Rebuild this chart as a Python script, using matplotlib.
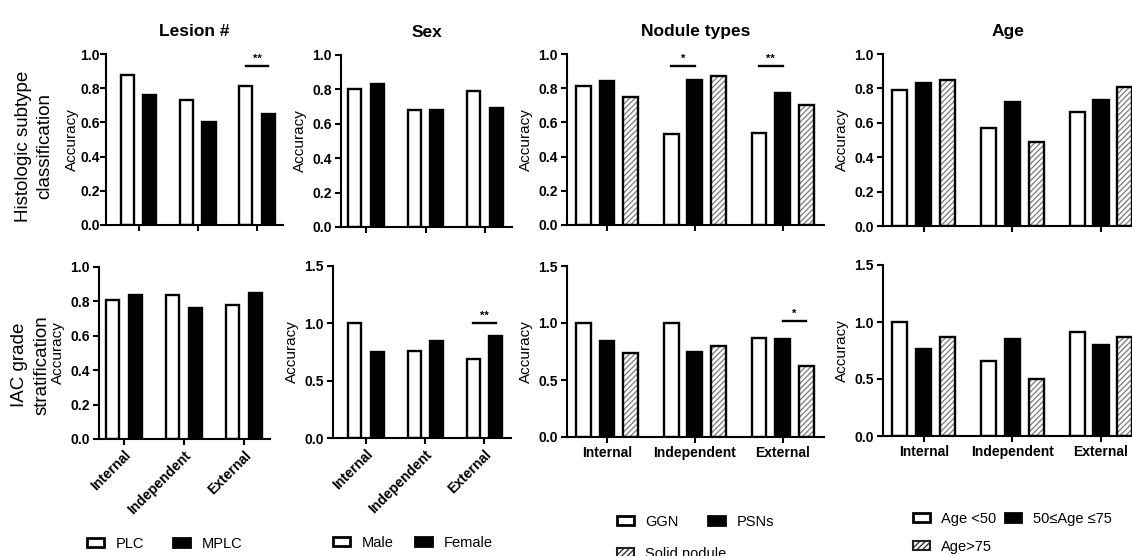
import numpy as np
import matplotlib
matplotlib.use("Agg")
import matplotlib.pyplot as plt
from matplotlib.patches import Patch

plt.rcParams['font.family'] = ['Liberation Sans', 'DejaVu Sans']
plt.rcParams['hatch.linewidth'] = 0.9

W, H = 1132, 556

groups = ['Internal', 'Independent', 'External']

# Lesion #
lesion_names = ['PLC', 'MPLC']
lesion_hist = [[0.88, 0.73, 0.81], [0.76, 0.60, 0.65]]
lesion_iac = [[0.81, 0.84, 0.78], [0.84, 0.76, 0.85]]

# Sex
sex_names = ['Male', 'Female']
sex_hist = [[0.80, 0.68, 0.79], [0.83, 0.68, 0.69]]
sex_iac = [[1.00, 0.76, 0.69], [0.75, 0.85, 0.89]]

# Nodule types
nodule_names = ['GGN', 'PSNs', 'Solid nodule']
nodule_hist = [[0.81, 0.53, 0.54], [0.84, 0.85, 0.77], [0.75, 0.87, 0.70]]
nodule_iac = [[1.00, 1.00, 0.87], [0.84, 0.75, 0.86], [0.74, 0.80, 0.62]]

# Age
age_names = ['Age <50', '50\u2264Age \u226475', 'Age>75']
age_hist = [[0.79, 0.57, 0.66], [0.83, 0.72, 0.73], [0.85, 0.49, 0.81]]
age_iac = [[1.00, 0.66, 0.91], [0.76, 0.85, 0.80], [0.87, 0.50, 0.87]]

# significance marks: (group, bar a, bar b, y, text)
sig_lesion_hist = [(2, 0, 1, 0.93, '**')]
sig_nodule_hist = [(1, 0, 1, 0.93, '*'), (2, 0, 1, 0.93, '**')]
sig_sex_iac = [(2, 0, 1, 1.00, '**')]
sig_nodule_iac = [(2, 1, 2, 1.02, '*')]

fig = plt.figure(figsize=(W / 100, H / 100), dpi=100)


def ax_at(l, r, t, b):
    return fig.add_axes([l / W, 1 - b / H, (r - l) / W, (b - t) / H])


def panel(ax, series, xlim, ylim, yticks, offs, width, sigs=(), labels=False, rot=False,
          lpad=4, tpad=2.5):
    x = np.arange(len(groups))
    styles = ['white', 'black', 'hatch']
    for i, vals in enumerate(series):
        xs = x + offs[i]
        st = styles[i]
        if st == 'hatch':
            ax.bar(xs, vals, width, color='white', edgecolor='#7a7a7a', lw=0, hatch='//////')
            ax.bar(xs, vals, width, fill=False, edgecolor='black', lw=1.7)
        else:
            ax.bar(xs, vals, width, color=st, edgecolor='black', lw=1.7)
    for g, a, b, y, txt in sigs:
        ax.plot([g + offs[a], g + offs[b]], [y, y], color='black', lw=1.7, clip_on=False)
        ax.text((2 * g + offs[a] + offs[b]) / 2, y + 0.012 * ylim, txt, ha='center', va='bottom',
                fontsize=8, fontweight='bold')
    ax.set_xlim(*xlim)
    ax.set_ylim(0, ylim)
    ax.set_yticks(yticks)
    ax.set_yticklabels(['%.1f' % v for v in yticks], fontweight='bold', fontsize=10)
    ax.set_xticks(x)
    if labels:
        if rot:
            ax.set_xticklabels(groups, rotation=45, ha='right', rotation_mode='anchor',
                               fontweight='bold', fontsize=10)
        else:
            ax.set_xticklabels(groups, fontweight='bold', fontsize=10)
    else:
        ax.set_xticklabels([])
    ax.spines['top'].set_visible(False)
    ax.spines['right'].set_visible(False)
    for s in ['left', 'bottom']:
        ax.spines[s].set_linewidth(1.5)
    ax.tick_params(direction='out', length=4, width=1.5, pad=2.5)
    ax.tick_params(axis='y', pad=tpad)
    ax.set_ylabel('Accuracy', fontsize=11, labelpad=lpad)


off2 = [-0.19, 0.19]
off3 = [-0.27, 0.0, 0.27]
tick1 = [0, 0.2, 0.4, 0.6, 0.8, 1.0]
tick15 = [0, 0.5, 1.0, 1.5]

ax = ax_at(106, 283, 54, 225)
panel(ax, lesion_hist, (-0.55, 2.44), 1.0, tick1, off2, 0.22, sig_lesion_hist, lpad=1, tpad=0.5)
ax.set_title('Lesion #', fontsize=12.5, fontweight='bold', pad=13)

ax = ax_at(341, 512, 55, 227)
panel(ax, sex_hist, (-0.42, 2.45), 1.0, tick1, off2, 0.22)
ax.set_title('Sex', fontsize=12.5, fontweight='bold', pad=13)

ax = ax_at(567, 824, 54, 225)
panel(ax, nodule_hist, (-0.455, 2.47), 1.0, tick1, off3, 0.17, sig_nodule_hist)
ax.set_title('Nodule types', fontsize=12.5, fontweight='bold', pad=13)

ax = ax_at(883, 1132, 54, 226)
panel(ax, age_hist, (-0.46, 2.35), 1.0, tick1, off3, 0.17)
ax.set_title('Age', fontsize=12.5, fontweight='bold', pad=13)

ax = ax_at(99, 270, 267, 439)
panel(ax, lesion_iac, (-0.42, 2.43), 1.0, tick1, off2, 0.22, labels=True, rot=True)

ax = ax_at(333, 511, 266, 438)
panel(ax, sex_iac, (-0.56, 2.45), 1.5, tick15, off2, 0.22, sig_sex_iac, labels=True, rot=True)

ax = ax_at(567, 824, 266, 437)
panel(ax, nodule_iac, (-0.455, 2.47), 1.5, tick15, off3, 0.17, sig_nodule_iac, labels=True)

ax = ax_at(883, 1132, 265, 436)
panel(ax, age_iac, (-0.46, 2.35), 1.5, tick15, off3, 0.17, labels=True)

fig.text(34 / W, 1 - 146 / H, 'Histologic subtype\nclassification', rotation=90,
         ha='center', va='center', fontsize=13.5, linespacing=1.3)
fig.text(31 / W, 1 - 365 / H, 'IAC grade\nstratification', rotation=90,
         ha='center', va='center', fontsize=13.5, linespacing=1.45)

hs = [Patch(facecolor='white', edgecolor='black', lw=2),
      Patch(facecolor='black', edgecolor='black', lw=2),
      Patch(facecolor='white', edgecolor='#222222', lw=1.5, hatch='//////')]


def legend(handles, names, x, y, colsp=1.0):
    fig.legend(handles, names, loc='center left', bbox_to_anchor=(x / W, 1 - y / H),
               ncol=len(names), frameon=False, fontsize=10.5, handlelength=1.15,
               handleheight=0.55, handletextpad=0.8, columnspacing=colsp,
               borderpad=0, borderaxespad=0)


legend(hs[:2], lesion_names, 87, 544, 2.0)
legend(hs[:2], sex_names, 333, 543, 1.5)
legend(hs[:2], nodule_names[:2], 617, 522, 2.0)
legend(hs[2:], nodule_names[2:], 617, 554)
legend(hs[:2], age_names[:2], 913, 519, 0.55)
legend(hs[2:], age_names[2:], 913, 547)

fig.savefig('out.png', dpi=100)
